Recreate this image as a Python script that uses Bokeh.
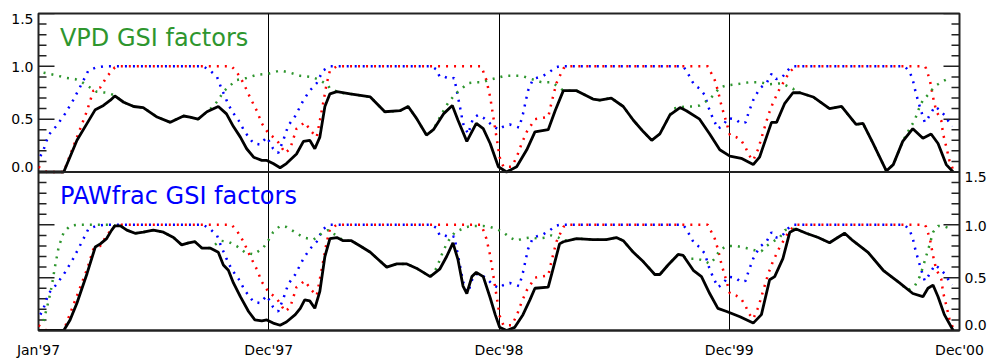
import math
from bokeh.plotting import figure
from bokeh.models import Range1d, FixedTicker, Grid, Label, LinearAxis, Span
from bokeh.embed import file_html
from bokeh.resources import INLINE

# ---------------- data (days since Jan'97) ----------------
x_ticks = [0, 365, 730, 1095, 1460]
x_tick_labels = ["Jan'97", "Dec'97", "Dec'98", "Dec'99", "Dec'00"]
y_major = [0.0, 0.5, 1.0, 1.5]
y_major_labels = ["0.0", "0.5", "1.0", "1.5"]
y_minor = [0.1, 0.2, 0.3, 0.4, 0.6, 0.7, 0.8, 0.9, 1.1, 1.2, 1.3, 1.4]

# shared factor (red)
red_day = [0, 8, 13, 40, 45, 61, 77, 87, 98, 108, 121, 130, 306, 314, 325, 335, 346, 354, 364, 378,
           391, 399, 409, 422, 433, 441, 449, 457, 462, 473, 702, 710, 716, 721, 726, 731, 737, 750,
           758, 766, 774, 787, 797, 808, 813, 821, 832, 837, 1061, 1072, 1077, 1083, 1091, 1096,
           1106, 1114, 1121, 1126, 1133, 1141, 1149, 1157, 1164, 1175, 1183, 1191, 1201, 1405,
           1407, 1413, 1418, 1423, 1431, 1434, 1439, 1444, 1450]
red_val = [0.05, 0.02, 0.0, 0.0, 0.08, 0.33, 0.58, 0.77, 0.80, 0.90, 0.99, 1.0, 1.0, 0.95, 0.84, 0.71,
           0.58, 0.46, 0.37, 0.30, 0.18, 0.22, 0.41, 0.47, 0.38, 0.33, 0.58, 0.84, 0.96, 1.0, 1.0,
           0.87, 0.71, 0.52, 0.33, 0.14, 0.05, 0.05, 0.14, 0.27, 0.38, 0.50, 0.51, 0.52, 0.65, 0.84,
           0.98, 1.0, 1.0, 0.87, 0.77, 0.62, 0.46, 0.35, 0.33, 0.30, 0.23, 0.16, 0.11, 0.22, 0.38,
           0.54, 0.65, 0.79, 0.87, 0.95, 1.0, 1.0, 0.98, 0.87, 0.71, 0.58, 0.49, 0.36, 0.24, 0.11, 0.02]

# shared factor (blue)
blue_day = [3, 8, 16, 29, 42, 55, 69, 79, 92, 103, 261, 272, 283, 290, 298, 306, 317, 327, 341, 351,
            362, 372, 380, 388, 396, 407, 420, 430, 441, 451, 462, 623, 631, 636, 644, 652, 659, 663,
            668, 673, 681, 689, 697, 706, 714, 721, 730, 737, 747, 762, 768, 776, 784, 800, 811, 819,
            826, 1022, 1028, 1035, 1040, 1048, 1056, 1064, 1069, 1077, 1085, 1093, 1105, 1113, 1121,
            1125, 1133, 1143, 1154, 1162, 1169, 1178, 1186, 1192, 1196, 1373, 1381, 1386, 1389, 1394,
            1399, 1405, 1410, 1421, 1428, 1436, 1448]
blue_val = [0.15, 0.21, 0.35, 0.44, 0.55, 0.68, 0.84, 0.96, 0.99, 1.0, 1.0, 0.96, 0.90, 0.79, 0.68,
            0.58, 0.49, 0.38, 0.27, 0.26, 0.33, 0.22, 0.18, 0.30, 0.44, 0.53, 0.68, 0.77, 0.84, 0.96,
            1.0, 1.0, 0.97, 0.90, 0.90, 0.88, 0.89, 0.77, 0.62, 0.46, 0.36, 0.51, 0.54, 0.51, 0.47,
            0.43, 0.40, 0.43, 0.45, 0.42, 0.55, 0.77, 0.88, 0.91, 0.95, 0.99, 1.0, 1.0, 0.95, 0.87,
            0.82, 0.79, 0.73, 0.58, 0.51, 0.41, 0.44, 0.51, 0.50, 0.46, 0.47, 0.55, 0.68, 0.79, 0.84,
            0.93, 0.88, 0.89, 0.95, 0.99, 1.0, 1.0, 0.95, 0.87, 0.79, 0.68, 0.58, 0.47, 0.51, 0.62,
            0.59, 0.54, 0.43]

# VPD factor (green, top panel)
vpd_day = [8, 24, 45, 58, 69, 79, 92, 108, 119, 135, 151, 166, 188, 209, 219, 230, 240, 253, 267,
           277, 285, 293, 304, 314, 330, 346, 364, 383, 399, 415, 433, 446, 459, 462, 478, 494, 526,
           549, 573, 586, 599, 615, 626, 631, 639, 650, 657, 665, 673, 681, 694, 705, 713, 726, 739,
           755, 766, 776, 787, 797, 813, 826, 832, 853, 879, 890, 908, 927, 943, 959, 972, 985, 1001,
           1006, 1025, 1038, 1048, 1056, 1064, 1072, 1080, 1091, 1106, 1127, 1143, 1159, 1178, 1188,
           1196, 1201, 1207, 1228, 1254, 1273, 1296, 1307, 1323, 1344, 1355, 1370, 1382, 1389, 1397,
           1402, 1410, 1415, 1423, 1434, 1444]
vpd_val = [0.94, 0.92, 0.89, 0.88, 0.85, 0.81, 0.76, 0.75, 0.73, 0.66, 0.62, 0.61, 0.52, 0.47, 0.50,
           0.53, 0.52, 0.50, 0.57, 0.62, 0.68, 0.76, 0.82, 0.87, 0.89, 0.92, 0.93, 0.96, 0.94, 0.91,
           0.90, 0.87, 0.82, 0.79, 0.75, 0.74, 0.71, 0.57, 0.58, 0.62, 0.51, 0.35, 0.40, 0.46, 0.55,
           0.66, 0.71, 0.76, 0.80, 0.84, 0.85, 0.85, 0.87, 0.89, 0.91, 0.91, 0.91, 0.89, 0.87, 0.85,
           0.85, 0.80, 0.77, 0.77, 0.69, 0.68, 0.70, 0.62, 0.49, 0.38, 0.30, 0.36, 0.54, 0.60, 0.62,
           0.62, 0.63, 0.66, 0.69, 0.74, 0.80, 0.82, 0.83, 0.85, 0.85, 0.83, 0.84, 0.81, 0.79, 0.75,
           0.75, 0.71, 0.60, 0.62, 0.45, 0.46, 0.27, 0.01, 0.07, 0.29, 0.42, 0.49, 0.62, 0.68, 0.73,
           0.77, 0.82, 0.86, 0.89]

# GSI with VPD (black, top panel)
gsi_vpd_day = [0, 40, 61, 77, 90, 103, 114, 121, 135, 151, 166, 188, 209, 219, 230, 240, 253, 267,
               285, 298, 309, 320, 330, 341, 354, 362, 372, 383, 393, 409, 420, 430, 438, 446, 454,
               462, 473, 494, 526, 549, 573, 586, 599, 615, 626, 642, 656, 665, 679, 694, 705, 716,
               729, 742, 758, 774, 787, 808, 819, 832, 853, 879, 890, 908, 927, 943, 959, 972, 985,
               1001, 1017, 1027, 1048, 1064, 1080, 1096, 1114, 1133, 1143, 1162, 1170, 1183, 1196,
               1207, 1228, 1254, 1273, 1296, 1307, 1323, 1344, 1355, 1370, 1386, 1402, 1415, 1426,
               1439, 1450]
gsi_vpd_val = [0.0, 0.0, 0.30, 0.46, 0.59, 0.63, 0.68, 0.72, 0.66, 0.62, 0.61, 0.52, 0.47, 0.50,
               0.53, 0.52, 0.50, 0.57, 0.62, 0.55, 0.43, 0.33, 0.22, 0.14, 0.11, 0.11, 0.08, 0.04,
               0.08, 0.17, 0.29, 0.30, 0.22, 0.33, 0.62, 0.74, 0.76, 0.74, 0.71, 0.57, 0.58, 0.62,
               0.51, 0.35, 0.40, 0.55, 0.63, 0.49, 0.29, 0.46, 0.41, 0.27, 0.05, 0.0, 0.05, 0.21,
               0.38, 0.40, 0.58, 0.77, 0.77, 0.69, 0.68, 0.70, 0.62, 0.49, 0.38, 0.30, 0.36, 0.54,
               0.61, 0.58, 0.50, 0.36, 0.21, 0.15, 0.13, 0.07, 0.14, 0.47, 0.47, 0.65, 0.75, 0.75,
               0.71, 0.60, 0.62, 0.45, 0.46, 0.27, 0.01, 0.07, 0.29, 0.41, 0.32, 0.36, 0.27, 0.07, 0.0]

# PAWfrac factor (green, bottom panel)
paw_day = [8, 16, 21, 26, 32, 40, 50, 61, 119, 121, 130, 140, 153, 166, 182, 198, 214, 227, 238, 248,
           259, 272, 277, 288, 301, 314, 327, 341, 356, 364, 372, 383, 393, 407, 420, 436, 449, 459,
           462, 473, 483, 496, 510, 526, 539, 552, 568, 584, 599, 621, 631, 642, 650, 660, 671, 679,
           689, 705, 716, 726, 737, 747, 758, 768, 779, 792, 805, 813, 824, 832, 853, 879, 900, 916,
           927, 943, 959, 977, 985, 998, 1014, 1017, 1032, 1043, 1056, 1064, 1072, 1080, 1091, 1106,
           1122, 1135, 1146, 1154, 1164, 1175, 1183, 1191, 1201, 1217, 1236, 1254, 1267, 1278, 1291,
           1315, 1339, 1365, 1378, 1389, 1397, 1402, 1407, 1413, 1418, 1426, 1434, 1447]
paw_val = [0.09, 0.28, 0.42, 0.60, 0.79, 0.93, 0.99, 1.0, 1.0, 0.99, 0.99, 0.95, 0.92, 0.93, 0.95,
           0.93, 0.88, 0.81, 0.83, 0.84, 0.78, 0.78, 0.80, 0.85, 0.84, 0.80, 0.74, 0.72, 0.78, 0.85,
           0.93, 0.99, 0.98, 0.93, 0.88, 0.86, 0.92, 0.95, 0.93, 0.90, 0.85, 0.85, 0.80, 0.74, 0.67,
           0.60, 0.63, 0.63, 0.59, 0.51, 0.59, 0.76, 0.85, 0.93, 0.96, 0.98, 0.99, 0.99, 0.98, 0.96,
           0.93, 0.88, 0.85, 0.87, 0.88, 0.87, 0.88, 0.90, 0.88, 0.85, 0.87, 0.86, 0.86, 0.88, 0.85,
           0.74, 0.65, 0.53, 0.53, 0.62, 0.72, 0.71, 0.68, 0.68, 0.66, 0.63, 0.68, 0.76, 0.80, 0.80,
           0.78, 0.76, 0.75, 0.80, 0.84, 0.88, 0.95, 0.96, 0.96, 0.92, 0.88, 0.83, 0.88, 0.92, 0.85,
           0.74, 0.57, 0.45, 0.38, 0.42, 0.51, 0.60, 0.70, 0.82, 0.93, 0.99, 0.99, 0.96]

# GSI with PAWfrac (black, bottom panel)
gsi_paw_day = [0, 40, 50, 61, 77, 90, 98, 108, 116, 121, 130, 140, 153, 166, 182, 198, 214, 227, 238,
               248, 259, 272, 285, 293, 301, 309, 320, 333, 343, 354, 362, 372, 383, 393, 407, 415,
               422, 430, 438, 446, 454, 462, 473, 483, 496, 510, 526, 539, 552, 568, 584, 599, 621,
               636, 647, 657, 665, 673, 679, 687, 694, 705, 716, 724, 731, 742, 755, 768, 779, 787,
               808, 816, 826, 832, 853, 879, 900, 916, 927, 943, 959, 977, 985, 998, 1014, 1022, 1038,
               1051, 1064, 1077, 1091, 1112, 1133, 1146, 1159, 1167, 1180, 1191, 1201, 1217, 1236,
               1254, 1267, 1278, 1291, 1315, 1339, 1365, 1386, 1402, 1410, 1418, 1426, 1436, 1450]
gsi_paw_val = [0.0, 0.0, 0.10, 0.26, 0.54, 0.79, 0.82, 0.87, 0.95, 0.99, 0.99, 0.95, 0.92, 0.93,
               0.95, 0.93, 0.88, 0.81, 0.83, 0.84, 0.78, 0.78, 0.74, 0.62, 0.57, 0.45, 0.32, 0.18,
               0.10, 0.09, 0.10, 0.07, 0.05, 0.08, 0.15, 0.21, 0.29, 0.28, 0.21, 0.37, 0.70, 0.87,
               0.88, 0.85, 0.85, 0.80, 0.74, 0.67, 0.60, 0.63, 0.63, 0.59, 0.51, 0.58, 0.70, 0.83,
               0.67, 0.42, 0.35, 0.51, 0.55, 0.51, 0.31, 0.15, 0.03, 0.0, 0.03, 0.15, 0.29, 0.40,
               0.41, 0.59, 0.82, 0.84, 0.87, 0.86, 0.86, 0.88, 0.85, 0.74, 0.65, 0.53, 0.53, 0.62,
               0.72, 0.71, 0.57, 0.51, 0.35, 0.21, 0.18, 0.13, 0.07, 0.15, 0.48, 0.51, 0.68, 0.93,
               0.96, 0.92, 0.88, 0.83, 0.88, 0.92, 0.85, 0.74, 0.57, 0.45, 0.35, 0.32, 0.40, 0.43,
               0.32, 0.15, 0.0]

titles = ["VPD GSI factors", "PAWfrac GSI factors"]

# ---------------- styling ----------------
FONT = "DejaVu Sans"
GREEN = "#2e962e"
FRAME = "#222222"
X0, X1 = 0, 1460
# two stacked panels in one frame: the upper panel uses the "top" y range
# (0..1.5 in its upper half), the lower panel the default range (0..1.5 in its lower half)
TOP = "top"
# where each y label sits: the end labels are nudged inside their panel, as in the original
TOP_LABEL_POS = [0.045, 0.5, 0.995, 1.45]
BOT_LABEL_POS = [0.05, 0.5, 0.99, 1.453]

p = figure(width=989, height=360, output_backend="svg", toolbar_location=None,
           x_range=Range1d(X0, X1), y_range=Range1d(0, 3.0),
           x_axis_location="below", y_axis_location=None,
           min_border_left=38, min_border_right=29, min_border_top=13, min_border_bottom=27)
p.extra_y_ranges = {TOP: Range1d(-1.5, 1.5)}
p.outline_line_color = FRAME
p.outline_line_width = 2
p.background_fill_color = "white"
p.border_fill_color = "white"
p.xgrid.visible = False
p.ygrid.visible = False

# x axis: labels only; the year marks are full-height lines
xa = p.xaxis[0]
xa.ticker = FixedTicker(ticks=x_ticks)
xa.major_label_overrides = dict(zip(x_ticks, x_tick_labels))
xa.major_tick_in = 0
xa.major_tick_out = 0
xa.minor_tick_in = 0
xa.minor_tick_out = 0
xa.axis_line_color = FRAME
xa.axis_line_width = 2
xa.major_label_text_font = FONT
xa.major_label_text_font_size = "14px"
xa.major_label_text_color = "black"
xa.major_label_standoff = 11
p.add_layout(Grid(dimension=0, ticker=FixedTicker(ticks=x_ticks[1:-1]),
                  grid_line_color="black", grid_line_width=1))

# border between the two panels (top of the lower panel)
p.add_layout(Span(location=1.5, dimension="width", line_color=FRAME, line_width=2))


def add_ticks(range_name):
    # inward ticks on both vertical edges of the frame
    for x, ang in ((X0, 0.0), (X1, math.pi)):
        p.ray(x=[x] * len(y_major), y=y_major, length=16, length_units="screen", angle=ang,
              line_color=FRAME, line_width=1.5, y_range_name=range_name)
        p.ray(x=[x] * len(y_minor), y=y_minor, length=8, length_units="screen", angle=ang,
              line_color=FRAME, line_width=1.5, y_range_name=range_name)


def add_ylabels(side, positions, range_name):
    ax = LinearAxis(ticker=FixedTicker(ticks=positions, minor_ticks=[]), y_range_name=range_name)
    ax.major_label_overrides = dict(zip(positions, y_major_labels))
    ax.major_tick_in = 0
    ax.major_tick_out = 0
    ax.minor_tick_in = 0
    ax.minor_tick_out = 0
    ax.axis_line_color = None
    ax.major_tick_line_color = None
    ax.major_label_standoff = 5
    ax.major_label_text_font = FONT
    ax.major_label_text_font_size = "14px"
    ax.major_label_text_color = "black"
    p.add_layout(ax, side)


add_ticks(TOP)
add_ticks("default")
add_ylabels("left", TOP_LABEL_POS, TOP)
add_ylabels("right", BOT_LABEL_POS, "default")

# ---------------- top panel ----------------
p.line(blue_day, blue_val, line_color="blue", line_width=2.5, line_dash="2 6", y_range_name=TOP)
p.line(red_day, red_val, line_color="red", line_width=2.5, line_dash="2 6", y_range_name=TOP)
p.line(vpd_day, vpd_val, line_color=GREEN, line_width=2.5, line_dash="2 6", y_range_name=TOP)
p.line(gsi_vpd_day, gsi_vpd_val, line_color="black", line_width=2.8, y_range_name=TOP)
p.add_layout(Label(x=34, y=1.27, y_range_name=TOP, text=titles[0], text_color=GREEN,
                   text_font=FONT, text_font_size="24px", text_baseline="alphabetic"))

# ---------------- bottom panel ----------------
p.line(blue_day, blue_val, line_color="blue", line_width=2.5, line_dash="2 6")
p.line(red_day, red_val, line_color="red", line_width=2.5, line_dash="2 6")
p.line(paw_day, paw_val, line_color=GREEN, line_width=2.5, line_dash="2 6")
p.line(gsi_paw_day, gsi_paw_val, line_color="black", line_width=2.8)
p.add_layout(Label(x=34, y=1.27, text=titles[1], text_color="blue",
                   text_font=FONT, text_font_size="24px", text_baseline="alphabetic"))

open("out.html", "w").write(file_html(p, INLINE))
